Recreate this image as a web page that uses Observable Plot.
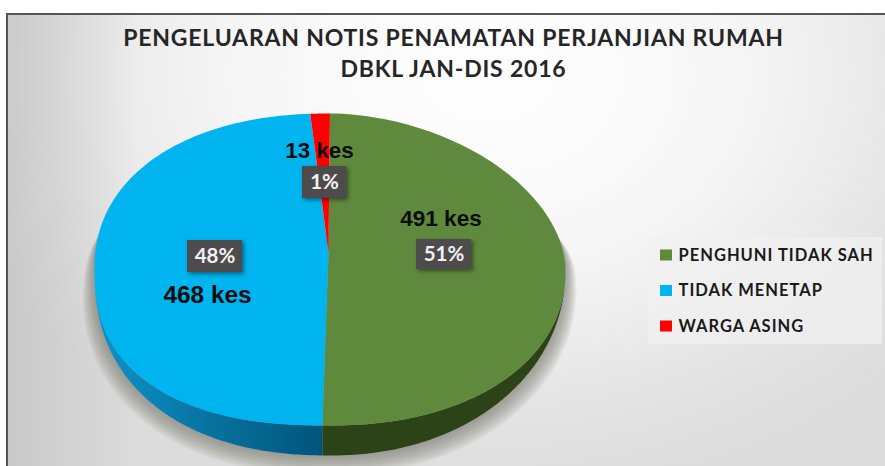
<!DOCTYPE html>
<html>
<head>
<meta charset="utf-8">
<script src="https://cdn.jsdelivr.net/npm/d3@7"></script>
<script src="https://cdn.jsdelivr.net/npm/@observablehq/plot@0.6"></script>
<style>
html,body{margin:0;padding:0;background:#fff;}
#wrap{position:relative;width:885px;height:466px;overflow:hidden;}
#panel{position:absolute;left:6px;top:13px;width:890px;height:470px;border:2px solid #555;box-sizing:border-box;
background:linear-gradient(to right,rgba(185,185,185,0.55),rgba(185,185,185,0) 130px),
radial-gradient(ellipse 560px 420px at 480px 60px,#ffffff 0%,#f6f6f6 45%,#e4e4e4 80%,#dcdcdc 100%);}
#plot{position:absolute;left:0;top:0;}
.title-text text{letter-spacing:0.8px;}
.legend-text text{letter-spacing:1px;}
</style>
</head>
<body>
<div id="wrap"><div id="panel"></div><div id="plot"></div></div>
<script>
const categories = ["PENGHUNI TIDAK SAH", "TIDAK MENETAP", "WARGA ASING"];
const cases = [491, 468, 13];
const caseLabels = ["491 kes", "468 kes", "13 kes"];
const percentLabels = ["51%", "48%", "1%"];
const topColors = ["#5f8a3e", "#00b4f0", "#fe0000"];
const sideColors = ["#2c4317", "url(#blueSide)", "#a00000"];
const titleLines = ["PENGELUARAN NOTIS PENAMATAN PERJANJIAN RUMAH", "DBKL JAN-DIS 2016"];

// layout of the tilted pie
const cx = 329.5, cy = 269, rx = 235.5, ry = 156, depth = 30;
const apex = [328, 252];
const exponents = [1.85, 2.15, 2.4, 2.2]; // outline of each quadrant, clockwise from the top
const rim = t => {
  const q = Math.min(3, Math.floor(t / (Math.PI / 2)));
  const s = Math.sin(t), c = Math.cos(t), n = exponents[q];
  const r = (Math.abs(s) ** n + Math.abs(c) ** n) ** (-1 / n);
  return [cx + rx * s * r, cy - ry * c * r];
};
const drop = t => depth * Math.abs(Math.cos(t)) ** 1.4;
const lower = t => { const [x, y] = rim(t); return [x, y + drop(t)]; };
const steps = (a, b) => d3.range(0, 121).map(i => a + (b - a) * i / 120);

const arcs = d3.pie().sort(null)(cases);
const topFaces = arcs.map(a => [apex, ...steps(a.startAngle, a.endAngle).map(rim)]);
const sideFaces = arcs.map(a => {
  const s = Math.max(a.startAngle, Math.PI / 2), e = Math.min(a.endAngle, 3 * Math.PI / 2);
  if (e <= s) return [];
  const ts = steps(s, e);
  return [...ts.map(rim), ...ts.slice().reverse().map(lower)];
});

// soft shadow below the disc, built up from stacked outlines
const spread = 105 * Math.PI / 180;
const shadowRings = d3.range(0, 10).map(k => {
  const e = 20 * (1 - k / 10);
  return steps(Math.PI - spread, Math.PI + spread).map(t => {
    const [x, y] = lower(t);
    const f = e * (1 - ((t - Math.PI) / spread) ** 4);
    return [x + f * Math.sin(t), y - f * Math.cos(t)];
  });
});

const poly = (pts, fill, extra = {}) => Plot.line(pts, {x: d => d[0], y: d => d[1], fill, stroke: "none", ...extra});

// data labels
const boxes = [
  {x: 443.5, y: 254, w: 55, h: 30},
  {x: 214.5, y: 256, w: 55, h: 32},
  {x: 324, y: 182, w: 44, h: 32}
].map((b, i) => ({...b, text: percentLabels[i]}));
const kes = [
  {x: 440.5, y: 218, size: 22.5},
  {x: 207, y: 295, size: 24.4},
  {x: 319, y: 150, size: 22.4}
].map((k, i) => ({...k, text: caseLabels[i]}));
const legend = categories.map((c, i) => ({c, y: 255 + 35.5 * i, color: topColors[i]}));

const defs = () => {
  const d = d3.create("svg:defs");
  const g = d.append("linearGradient").attr("id", "blueSide");
  g.append("stop").attr("offset", "0%").attr("stop-color", "#0e93cb");
  g.append("stop").attr("offset", "55%").attr("stop-color", "#07709d");
  g.append("stop").attr("offset", "100%").attr("stop-color", "#00557a");
  return d.node();
};

const lato = "Lato, Carlito, 'Open Sans', sans-serif";
const arial = "'Liberation Sans', Arial, sans-serif";

const chart = Plot.plot({
  width: 885, height: 466,
  margin: 0,
  style: {background: "transparent", overflow: "visible"},
  x: {domain: [0, 885], range: [0, 885], axis: null},
  y: {domain: [0, 466], range: [0, 466], axis: null},
  marks: [
    defs,
    ...shadowRings.map(r => poly(r, "#7d7571", {fillOpacity: 0.09})),
    ...sideFaces.map((f, i) => poly(f, sideColors[i])),
    ...topFaces.map((f, i) => poly(f, topColors[i])),
    Plot.text(titleLines, {
      x: 453, y: (d, i) => 38 + 31 * i, text: d => d, className: "title-text",
      fontFamily: lato, fontWeight: 700, fontSize: 23, fill: "#262626", stroke: "none"
    }),
    Plot.text(kes, {x: "x", y: "y", text: "text", fontSize: "size", fontFamily: arial, fontWeight: 700, fill: "#0c0c0c"}),
    Plot.rect(boxes, {
      x1: d => d.x - d.w / 2, x2: d => d.x + d.w / 2, y1: d => d.y - d.h / 2, y2: d => d.y + d.h / 2,
      fill: "#4e4b4d", imageFilter: "drop-shadow(2px 2px 2px rgba(0,0,0,0.45))"
    }),
    Plot.text(boxes, {x: "x", y: "y", text: "text", fontFamily: lato, fontWeight: 700, fontSize: 20.5, fill: "#f2f2f2"}),
    Plot.rect([0], {x1: 648, x2: 882, y1: 237, y2: 344, fill: "#f1f1f1", fillOpacity: 0.7}),
    Plot.rect(legend, {x1: 660, x2: 672, y1: d => d.y - 5.5, y2: d => d.y + 5.5, fill: "color"}),
    Plot.text(legend, {
      x: 678, y: "y", text: "c", textAnchor: "start", className: "legend-text",
      fontFamily: lato, fontWeight: 700, fontSize: 16.5, fill: "#1a1a1a"
    })
  ]
});
document.getElementById("plot").appendChild(chart);
</script>
</body>
</html>
